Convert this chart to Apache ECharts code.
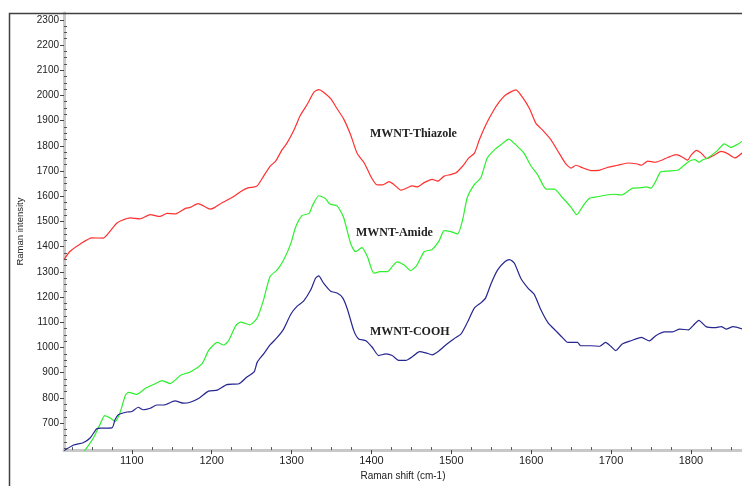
<!DOCTYPE html>
<html>
<head>
<meta charset="utf-8">
<script src="https://cdn.jsdelivr.net/npm/echarts@6/dist/echarts.min.js"></script>
<style>
html,body{margin:0;padding:0;background:#fff;}
#chart{width:742px;height:486px;}
</style>
</head>
<body>
<div id="chart"></div>
<script>
// ---- data (Raman shift cm-1 / intensity) ----
const shiftThiazole = [1015,1022,1035,1050,1064,1070,1081,1087,1098,1110,1123,1135,1144,1154,1167,1173,1183,1198,1204,1213,1219,1227,1236,1246,1252,1257,1265,1273,1280,1288,1294,1303,1311,1320,1328,1334,1340,1349,1357,1365,1374,1382,1391,1399,1406,1414,1422,1428,1437,1445,1451,1457,1466,1476,1483,1491,1499,1506,1514,1522,1529,1535,1543,1552,1560,1568,1581,1589,1598,1606,1614,1625,1635,1644,1650,1656,1665,1675,1686,1696,1708,1721,1733,1738,1746,1755,1765,1771,1782,1790,1796,1800,1807,1813,1820,1830,1838,1846,1855,1865];
const intensityThiazole = [1348,1380,1410,1435,1434,1451,1493,1504,1514,1510,1527,1520,1532,1530,1552,1556,1571,1549,1556,1574,1584,1598,1618,1634,1636,1641,1680,1719,1739,1784,1810,1863,1921,1967,2013,2023,2013,1987,1947,1908,1843,1771,1732,1680,1647,1645,1658,1647,1624,1634,1641,1637,1654,1667,1660,1680,1686,1693,1719,1752,1771,1823,1882,1935,1974,2002,2022,1993,1947,1889,1863,1823,1771,1726,1712,1723,1712,1702,1704,1715,1723,1732,1728,1723,1739,1735,1745,1754,1765,1754,1743,1762,1782,1771,1749,1765,1778,1769,1752,1774];

const shiftAmide = [1035,1043,1052,1060,1066,1073,1079,1085,1092,1096,1106,1117,1127,1138,1148,1161,1173,1188,1196,1207,1215,1221,1230,1236,1248,1257,1265,1273,1282,1290,1299,1305,1313,1322,1326,1334,1342,1348,1357,1365,1374,1380,1388,1395,1403,1411,1420,1426,1432,1441,1449,1457,1466,1476,1485,1491,1499,1508,1514,1520,1529,1537,1545,1554,1562,1572,1583,1591,1600,1608,1619,1629,1639,1650,1657,1665,1673,1683,1694,1704,1713,1719,1727,1738,1744,1750,1756,1762,1771,1784,1790,1798,1805,1810,1815,1821,1832,1842,1850,1859,1865];
const intensityAmide = [570,600,642,694,730,720,707,740,812,822,814,838,853,869,857,890,903,936,988,1020,1010,1027,1086,1101,1090,1118,1190,1282,1308,1347,1412,1477,1523,1532,1562,1602,1592,1569,1562,1517,1412,1380,1396,1360,1295,1301,1301,1321,1340,1327,1305,1327,1380,1389,1425,1464,1460,1451,1504,1595,1647,1673,1752,1784,1804,1827,1797,1771,1719,1686,1628,1628,1595,1556,1527,1562,1592,1598,1605,1608,1605,1615,1632,1634,1637,1632,1660,1696,1700,1704,1719,1739,1745,1735,1745,1752,1778,1808,1794,1807,1820];

const shiftCooh = [1015,1027,1039,1048,1056,1062,1075,1079,1083,1094,1100,1108,1114,1123,1131,1140,1154,1165,1173,1184,1196,1207,1219,1234,1244,1253,1257,1265,1273,1282,1290,1299,1307,1315,1324,1330,1334,1340,1349,1357,1364,1370,1378,1384,1393,1401,1409,1418,1426,1434,1443,1453,1460,1468,1476,1485,1493,1503,1512,1520,1529,1537,1543,1550,1558,1567,1573,1579,1587,1596,1604,1612,1621,1631,1639,1646,1658,1662,1675,1686,1693,1700,1706,1714,1725,1738,1748,1756,1767,1777,1786,1797,1803,1810,1819,1830,1838,1844,1853,1865];
const intensityCooh = [590,613,622,642,678,680,681,714,733,744,746,763,753,759,772,772,788,779,783,799,827,831,853,856,883,903,942,975,1010,1040,1073,1132,1164,1184,1229,1275,1284,1255,1223,1216,1197,1151,1066,1034,1027,1001,968,975,968,949,949,968,984,979,971,988,1010,1034,1053,1099,1157,1177,1197,1255,1308,1340,1349,1334,1275,1236,1210,1151,1099,1066,1040,1020,1020,1007,1007,1005,1020,1004,988,1014,1027,1040,1026,1047,1062,1062,1073,1070,1088,1108,1083,1079,1083,1073,1083,1073];

const xTickLabels = [1100,1200,1300,1400,1500,1600,1700,1800];
const yTickLabels = [700,800,900,1000,1100,1200,1300,1400,1500,1600,1700,1800,1900,2000,2100,2200,2300];
const seriesNames = ['MWNT-Thiazole','MWNT-Amide','MWNT-COOH'];
const seriesColors = ['#ff3030','#2cf02c','#262690'];

// ---- build ----
function zip(xs, ys){ return xs.map((x,i)=>[x, ys[i]]); }
const xMin = 1015, xMax = 1864, yMin = 593, yMax = 2327;
const xMinor = []; for (let v = 1025; v < xMax; v += 25) if (xTickLabels.indexOf(v) < 0) xMinor.push(v);
const yMinor = []; for (let v = 600; v < yMax; v += 25) if (yTickLabels.indexOf(v) < 0) yMinor.push(v);
const plain = v => String(v);

const chart = echarts.init(document.getElementById('chart'), null, {renderer:'canvas'});
const axisFont = 'Liberation Sans, Arial, sans-serif';
const option = {
  animation: false,
  backgroundColor: '#ffffff',
  grid: { left: 64, right: 0, top: 13, bottom: 30, containLabel: false },
  xAxis: [{
    type: 'value', min: xMin, max: xMax,
    name: 'Raman shift (cm-1)', nameLocation: 'middle', nameGap: 19,
    nameTextStyle: { fontFamily: axisFont, fontSize: 10, color: '#222' },
    axisLine: { show: true, lineStyle: { color: '#c8c8c8', width: 3 } },
    axisTick: { show: true, customValues: xTickLabels, length: 4, lineStyle: { color: '#444' } },
    axisLabel: { show: true, customValues: xTickLabels, formatter: plain, fontFamily: axisFont, fontSize: 11, color: '#222', margin: 5 },
    splitLine: { show: false }, z: 2
  },{
    type: 'value', min: xMin, max: xMax, position: 'bottom',
    axisLine: { show: true, lineStyle: { color: 'rgba(0,0,0,0)', width: 1 } },
    axisTick: { show: true, customValues: xMinor, inside: true, length: 3, lineStyle: { color: '#555' } },
    axisLabel: { show: false },
    splitLine: { show: false }, z: 4
  }],
  yAxis: [{
    type: 'value', min: yMin, max: yMax,
    name: 'Raman intensity', nameLocation: 'middle', nameGap: 39, nameRotate: 90,
    nameTextStyle: { fontFamily: axisFont, fontSize: 9.5, color: '#222' },
    axisLine: { show: true, lineStyle: { color: '#c8c8c8', width: 3 } },
    axisTick: { show: true, customValues: yTickLabels, length: 4, lineStyle: { color: '#444' } },
    axisLabel: { show: true, customValues: yTickLabels, formatter: plain, fontFamily: axisFont, fontSize: 10, color: '#222', margin: 5 },
    splitLine: { show: false }, z: 2
  },{
    type: 'value', min: yMin, max: yMax, position: 'left',
    axisLine: { show: true, lineStyle: { color: 'rgba(0,0,0,0)', width: 1 } },
    axisTick: { show: true, customValues: yMinor, inside: true, length: 3, lineStyle: { color: '#555' } },
    axisLabel: { show: false },
    splitLine: { show: false }, z: 4
  }],
  series: [
    { name: seriesNames[0], data: zip(shiftThiazole, intensityThiazole), color: seriesColors[0] },
    { name: seriesNames[1], data: zip(shiftAmide, intensityAmide), color: seriesColors[1] },
    { name: seriesNames[2], data: zip(shiftCooh, intensityCooh), color: seriesColors[2] }
  ].map(s => ({
    type: 'line', name: s.name, data: s.data, xAxisIndex: 0, yAxisIndex: 0,
    symbol: 'none', showSymbol: false, smooth: 0.2, clip: true,
    lineStyle: { color: s.color, width: 1.2 }, z: 3
  })),
  graphic: [
    { type: 'polyline', silent: true, z: 10,
      shape: { points: [[9.5, 490], [9.5, 13.5], [745, 13.5]] },
      style: { stroke: '#404040', lineWidth: 1.5, fill: null } },
    { type: 'text', left: 370, top: 128, z: 10,
      style: { text: seriesNames[0], font: 'bold 12px "Liberation Serif", "Times New Roman", serif', fill: '#222' } },
    { type: 'text', left: 356, top: 227, z: 10,
      style: { text: seriesNames[1], font: 'bold 12px "Liberation Serif", "Times New Roman", serif', fill: '#222' } },
    { type: 'text', left: 370, top: 326, z: 10,
      style: { text: seriesNames[2], font: 'bold 12px "Liberation Serif", "Times New Roman", serif', fill: '#222' } }
  ]
};
chart.setOption(option);
</script>
</body>
</html>
